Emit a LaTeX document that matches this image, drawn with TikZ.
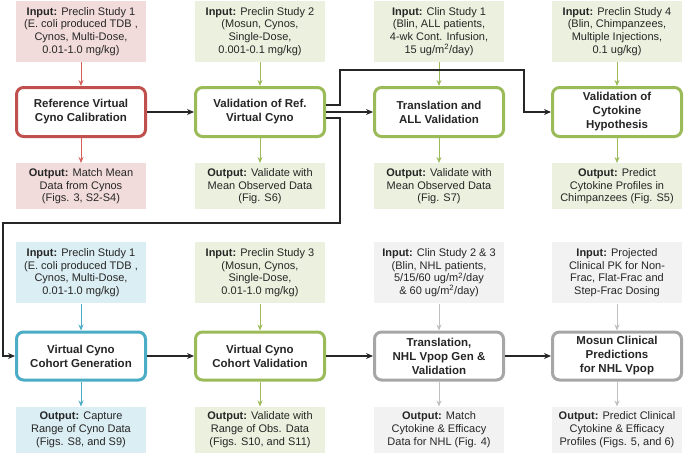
\documentclass[tikz,border=0pt]{standalone}
\usepackage{fontspec}
\setmainfont{Liberation Sans}
\usetikzlibrary{positioning,arrows.meta}

\definecolor{calred}{HTML}{C0504D}
\definecolor{calredfill}{HTML}{F2DCDB}
\definecolor{calredarr}{HTML}{D45F5B}
\definecolor{valgreen}{HTML}{9BBB59}
\definecolor{valgreenfill}{HTML}{EBF1DE}
\definecolor{cohblue}{HTML}{4BACC6}
\definecolor{cohbluefill}{HTML}{DBEEF3}
\definecolor{predgrey}{HTML}{A6A6A6}
\definecolor{predgreyfill}{HTML}{F2F2F2}
\definecolor{predgreyarr}{HTML}{BFBFBF}

\begin{document}
\begin{tikzpicture}[x=1pt,y=-1pt,
		infobox/.style={ % shaded input / output box
			rectangle, fill=#1, minimum width=130pt, inner sep=2pt,
			align=center, text=black!85,
			font=\fontsize{11}{12.7}\selectfont
		},
		inbox/.style={infobox=#1, minimum height=61pt},
		outbox/.style={infobox=#1, minimum height=46pt},
		stage/.style={ % main rounded step
			rectangle, draw=#1, fill=white, rounded corners=7pt,
			line width=3pt, minimum width=129pt, minimum height=49pt,
			align=center, text=black!85,
			font=\fontsize{11.5}{14}\selectfont\bfseries
		},
		feed/.style={draw=#1, line width=0.8pt, -{Stealth[length=6pt,width=5pt]}},
		link/.style={draw=black!85, line width=1.1pt, -{Stealth[length=7pt,width=6pt]}}
		]
		\useasboundingbox (0,0) rectangle (685,453);

		%% top row
		\node[stage=calred] (m1) at (81,112) {Reference Virtual\\Cyno Calibration};
		\node[stage=valgreen] (m2) at (260,112) {Validation of Ref.\\Virtual Cyno};
		\node[stage=valgreen] (m3) at (439,112) {Translation and\\ALL Validation};
		\node[stage=valgreen] (m4) at (617,112) {Validation of\\Cytokine\\Hypothesis};

		\node[inbox=calredfill, above=24pt of m1] (in1) {\textbf{Input:} Preclin Study 1\\(E. coli produced TDB ,\\Cynos, Multi-Dose,\\0.01-1.0 mg/kg)};
		\node[inbox=valgreenfill, above=24pt of m2] (in2) {\textbf{Input:} Preclin Study 2\\(Mosun, Cynos,\\Single-Dose,\\0.001-0.1 mg/kg)};
		\node[inbox=valgreenfill, above=24pt of m3] (in3) {\textbf{Input:} Clin Study 1\\(Blin, ALL patients,\\4-wk Cont. Infusion,\\15 ug/m\textsuperscript{2}/day)};
		\node[inbox=valgreenfill, above=24pt of m4] (in4) {\textbf{Input:} Preclin Study 4\\(Blin, Chimpanzees,\\Multiple Injections,\\0.1 ug/kg)};

		\node[outbox=calredfill, below=25pt of m1] (out1) {\textbf{Output:} Match Mean\\Data from Cynos\\(Figs. 3, S2-S4)};
		\node[outbox=valgreenfill, below=25pt of m2] (out2) {\textbf{Output:} Validate with\\Mean Observed Data\\(Fig. S6)};
		\node[outbox=valgreenfill, below=25pt of m3] (out3) {\textbf{Output:} Validate with\\Mean Observed Data\\(Fig. S7)};
		\node[outbox=valgreenfill, below=25pt of m4] (out4) {\textbf{Output:} Predict\\Cytokine Profiles in\\Chimpanzees (Fig. S5)};

		%% bottom row
		\node[stage=cohblue, minimum height=48pt] (m5) at (81,356) {Virtual Cyno\\Cohort Generation};
		\node[stage=valgreen, minimum height=48pt] (m6) at (260,356) {Virtual Cyno\\Cohort Validation};
		\node[stage=predgrey, minimum height=48pt] (m7) at (439,356) {Translation,\\NHL Vpop Gen \&\\Validation};
		\node[stage=predgrey, minimum height=48pt] (m8) at (617,356) {Mosun Clinical\\Predictions\\for NHL Vpop};

		\node[inbox=cohbluefill, above=27pt of m5] (in5) {\textbf{Input:} Preclin Study 1\\(E. coli produced TDB ,\\Cynos, Multi-Dose,\\0.01-1.0 mg/kg)};
		\node[inbox=valgreenfill, above=27pt of m6] (in6) {\textbf{Input:} Preclin Study 3\\(Mosun, Cynos,\\Single-Dose,\\0.01-1.0 mg/kg)};
		\node[inbox=predgreyfill, above=27pt of m7] (in7) {\textbf{Input:} Clin Study 2 \& 3\\(Blin, NHL patients,\\5/15/60 ug/m\textsuperscript{2}/day\\\& 60 ug/m\textsuperscript{2}/day)};
		\node[inbox=predgreyfill, above=27pt of m8] (in8) {\textbf{Input:} Projected\\Clinical PK for Non-\\Frac, Flat-Frac and\\Step-Frac Dosing};

		\node[outbox=cohbluefill, below=25pt of m5] (out5) {\textbf{Output:} Capture\\Range of Cyno Data\\(Figs. S8, and S9)};
		\node[outbox=valgreenfill, below=25pt of m6] (out6) {\textbf{Output:} Validate with\\Range of Obs. Data\\(Figs. S10, and S11)};
		\node[outbox=predgreyfill, below=25pt of m7] (out7) {\textbf{Output:} Match\\Cytokine \& Efficacy\\Data for NHL (Fig. 4)};
		\node[outbox=predgreyfill, below=25pt of m8] (out8) {\textbf{Output:} Predict Clinical\\Cytokine \& Efficacy\\Profiles (Figs. 5, and 6)};

		% input -> stage -> output
		\foreach \i/\c in {1/calredarr,2/valgreen,3/valgreen,4/valgreen,5/cohblue,6/valgreen,7/predgreyarr,8/predgreyarr}{
			\draw[feed=\c] (in\i) -- (m\i);
			\draw[feed=\c] (m\i) -- (out\i);
		}

		% stage to stage
		\coordinate (hop) at (340,70);
		\coordinate (drop) at (524,70);
		\coordinate (loop) at (340,223);
		\coordinate (loopend) at (3,223);
		\draw[link] (m1) -- (m2);
		\draw[link] (m2) -- (m3);
		\draw[link] ([yshift=7pt]m2.east) -| (hop) -- (drop) |- (m4.west);
		\draw[link] ([yshift=-6pt]m2.east) -| (loop) -- (loopend) |- (m5.west);
		\draw[link] (m5) -- (m6);
		\draw[link] (m6) -- (m7);
		\draw[link] (m7) -- (m8);
\end{tikzpicture}
\end{document}
